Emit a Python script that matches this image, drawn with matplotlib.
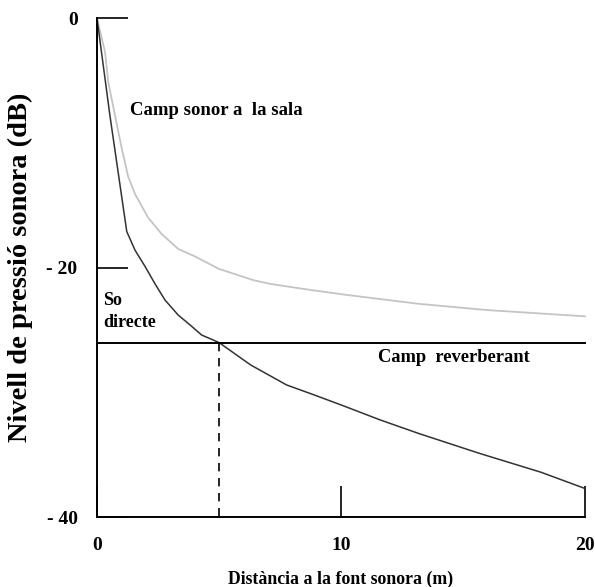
import matplotlib
matplotlib.use("Agg")
import matplotlib.pyplot as plt

# direct sound (black curve)
direct_x = [0, 0.53, 1.22, 1.56, 1.97, 2.38, 2.79, 3.33, 3.88, 4.29, 5.0,
            6.3, 7.77, 8.9, 10.0, 11.6, 13.2, 15.7, 18.2, 20.0]
direct_y = [0, -7.8, -17.1, -18.6, -19.9, -21.3, -22.6, -23.8, -24.7, -25.4, -26.0,
            -27.8, -29.4, -30.2, -31.0, -32.2, -33.3, -34.9, -36.4, -37.7]

# total field in the room (gray curve)
room_x = [0, 0.33, 0.46, 0.74, 1.01, 1.28, 1.56, 2.1, 2.65, 3.33, 4.02, 5.0,
          6.41, 7.1, 8.8, 10.3, 13.2, 16.0, 20.0]
room_y = [0, -2.7, -5.1, -7.8, -10.4, -12.7, -14.1, -16.0, -17.3, -18.5, -19.1, -20.1,
          -21.0, -21.3, -21.8, -22.2, -22.9, -23.4, -23.9]

reverb_level = -26
crossing_x = 5

xticks = [0, 10, 20]
yticks = [0, -20, -40]
ytick_labels = ["0", "- 20", "- 40"]

plt.rcParams['font.family'] = ['Liberation Serif', 'DejaVu Serif']
plt.rcParams['font.weight'] = 'bold'

fig = plt.figure(figsize=(5.95, 5.87), dpi=100)
ax = fig.add_axes([0.163, 0.119, 0.820, 0.850])

ax.plot(room_x, room_y, color='#c4c4c4', lw=1.3, clip_on=False)
ax.plot(direct_x, direct_y, color='#333333', lw=1.1, clip_on=False)
ax.plot([0, 20], [reverb_level, reverb_level], color='black', lw=1.4, clip_on=False)
ax.plot([crossing_x, crossing_x], [reverb_level, -40], color='black', lw=1.2,
        linestyle=(0, (5, 4)), clip_on=False)

ax.text(1.35, -7.4, "Camp sonor a  la sala", fontsize=13.5, fontweight='bold', va='center')
ax.text(0.25, -22.6, "So", fontsize=13, fontweight='bold', va='center')
ax.text(0.25, -24.4, "directe", fontsize=13, fontweight='bold', va='center')
ax.text(11.5, -27.2, "Camp  reverberant", fontsize=13.3, fontweight='bold', va='center')

ax.set_xlim(0, 20)
ax.set_ylim(-40, 0)
ax.set_xticks(xticks)
ax.set_yticks(yticks)
ax.set_yticklabels(ytick_labels)
ax.tick_params(direction='in', length=22, width=1.2, labelsize=14, pad=14)

for s in ['top', 'right']:
    ax.spines[s].set_visible(False)
for s in ['left', 'bottom']:
    ax.spines[s].set_linewidth(1.4)

ax.set_ylabel("Nivell de pressió sonora (dB)", fontsize=20.5, fontweight='bold', labelpad=10)
ax.set_xlabel("Distància a la font sonora (m)", fontsize=12.8, fontweight='bold', labelpad=12)

fig.savefig("out.png", dpi=100)
